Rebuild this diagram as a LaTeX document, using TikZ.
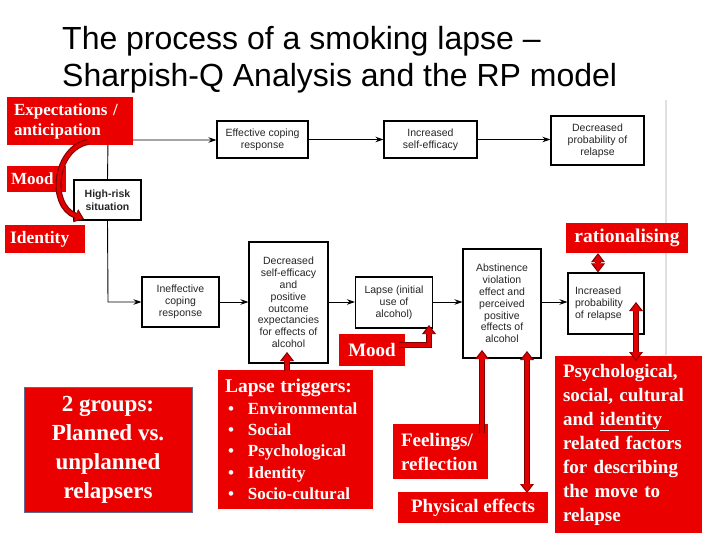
\documentclass[tikz,border=0pt]{standalone}
\usepackage{fontspec}
\setmainfont{Liberation Serif}
\newfontfamily\arialf{Liberation Sans}
\usetikzlibrary{arrows.meta}
\definecolor{boxred}{RGB}{235,0,0}
\definecolor{arrdark}{RGB}{125,0,0}
\definecolor{arrfill}{RGB}{225,0,0}
\definecolor{grpborder}{RGB}{95,105,145}
\tikzset{
  flow/.style={draw=black, line width=1.1pt, fill=white, inner sep=0pt, align=center,
    font=\arialf\fontsize{10.5}{11.8}\selectfont, text=black!85},
  rbox/.style={fill=boxred, inner sep=0pt, text=white},
  conn/.style={line width=0.9pt, -{Stealth[length=8pt,width=5.5pt]}},
  blk/.style={draw=arrdark, line width=6pt, line join=miter,
    -{Triangle[width=14pt,length=9pt,line width=0pt]},
    postaction={draw=arrfill, line width=3.8pt, shorten >=1.5pt,
      -{Triangle[width=10.4pt,length=7.4pt,line width=0pt]}}},
  blkboth/.style={draw=arrdark, line width=6pt, line join=miter,
    {Triangle[width=14pt,length=9pt,line width=0pt]}-{Triangle[width=14pt,length=9pt,line width=0pt]},
    postaction={draw=arrfill, line width=3.8pt, shorten >=1.5pt, shorten <=1.5pt,
      {Triangle[width=10.4pt,length=7.4pt,line width=0pt]}-{Triangle[width=10.4pt,length=7.4pt,line width=0pt]}}},
}
\begin{document}
\begin{tikzpicture}[x=1pt,y=-1pt]
\useasboundingbox (0,0) rectangle (720,540);
\fill[white] (0,0) rectangle (720,540);

% faint slide divider
\draw[black!12, line width=1.5pt] (666,100) -- (666,355);

% title
\node[anchor=base west, inner sep=0pt, font=\arialf\fontsize{32}{38}\selectfont] (t1) at (62,50) {The process of a smoking lapse –};
\node[anchor=base west, inner sep=0pt, font=\arialf\fontsize{32}{38}\selectfont] (t2) at (62,87) {Sharpish-Q Analysis and the RP model};

% flow boxes
\node[flow, minimum width=91pt, minimum height=37pt] (eff) at (262.5,139.5) {Effective coping\\response};
\node[flow, minimum width=93pt, minimum height=37pt] (inc) at (430.5,139.5) {Increased\\self-efficacy};
\node[flow, minimum width=93pt, minimum height=49pt] (dec) at (597.5,140.5) {Decreased\\probability of\\relapse};
\node[flow, minimum width=67pt, minimum height=40pt, font=\arialf\bfseries\fontsize{10.5}{12.5}\selectfont] (hrs) at (107.5,200) {High-risk\\situation};
\node[flow, minimum width=77pt, minimum height=50pt] (inef) at (180.5,302) {Ineffective\\coping\\response};
\node[flow, minimum width=79pt, minimum height=121pt] (dse) at (288.5,302.5) {Decreased\\self-efficacy\\and\\positive\\outcome\\expectancies\\for effects of\\alcohol};
\node[flow, minimum width=77pt, minimum height=51pt] (lapse) at (394,302.5) {Lapse (initial\\use of\\alcohol)};
\node[flow, minimum width=78pt, minimum height=109pt] (abst) at (502,303.5) {Abstinence\\violation\\effect and\\perceived\\positive\\effects of\\alcohol};
\node[flow, minimum width=76pt, minimum height=61pt, text width=62pt, align=left] (ipr) at (606,303.5) {Increased\\probability\\of relapse};

% black connectors
\coordinate (j1) at (108,140);
\coordinate (j2) at (108,302);
\draw[conn] (hrs.north) -- (j1) -- (eff.west |- j1);
\draw[conn] (hrs.south) -- (j2) -- (inef.west |- j2);
\draw[conn] (eff.east) -- (inc.west);
\draw[conn] (inc.east) -- (dec.west |- inc.east);
\draw[conn] (inef.east) -- (dse.west |- inef.east);
\draw[conn] (dse.east |- inef.east) -- (lapse.west |- inef.east);
\draw[conn] (lapse.east |- inef.east) -- (abst.west |- inef.east);
\draw[conn] (abst.east |- inef.east) -- (ipr.west |- inef.east);

% red boxes
\node[rbox, minimum width=126pt, minimum height=48pt, text width=112pt, align=left,
  font=\bfseries\fontsize{17}{20}\selectfont] (exp) at (70,121) {Expectations /\\anticipation};
\node[rbox, minimum width=59pt, minimum height=26pt, text width=51pt, align=left,
  font=\bfseries\fontsize{17}{20}\selectfont] (mood1) at (36.5,179) {Mood};
\node[rbox, minimum width=80pt, minimum height=28pt, text width=70pt, align=left,
  font=\bfseries\fontsize{17.5}{20}\selectfont] (ident) at (45,239) {Identity};
\node[rbox, minimum width=122pt, minimum height=30pt, font=\bfseries\fontsize{19.5}{22}\selectfont] (rat) at (627,238) {rationalising};
\node[rbox, minimum width=66pt, minimum height=32pt, font=\bfseries\fontsize{19}{22}\selectfont] (mood2) at (372,350) {Mood};
\node[rbox, minimum width=155pt, minimum height=139pt, text width=141pt, align=left,
  font=\bfseries\fontsize{17}{21.3}\selectfont] (lt) at (295.5,439.5)
  {{\fontsize{19.5}{21.3}\selectfont Lapse triggers:}\\
   \hspace*{3pt}\makebox[20pt][l]{\textbullet}Environmental\\
   \hspace*{3pt}\makebox[20pt][l]{\textbullet}Social\\
   \hspace*{3pt}\makebox[20pt][l]{\textbullet}Psychological\\
   \hspace*{3pt}\makebox[20pt][l]{\textbullet}Identity\\
   \hspace*{3pt}\makebox[20pt][l]{\textbullet}Socio-cultural};
\node[rbox, draw=grpborder, line width=1pt, minimum width=168pt, minimum height=125pt, align=center,
  font=\bfseries\fontsize{23}{29}\selectfont] (grp) at (108,449.5) {2 groups:\\Planned vs.\\unplanned\\relapsers};
\node[rbox, minimum width=95pt, minimum height=55pt, text width=79pt, align=left,
  font=\bfseries\fontsize{19}{24}\selectfont] (feel) at (440.5,451.5) {Feelings/\\reflection};
\node[rbox, minimum width=150pt, minimum height=31pt, font=\bfseries\fontsize{19}{22}\selectfont] (phys) at (473,507.5) {Physical effects};
\node[rbox, minimum width=147pt, minimum height=177pt, text width=131pt, align=left,
  font=\bfseries\fontsize{19}{24}\selectfont] (psy) at (628.5,444.5)
  {Psychological,\\social, cultural\\and \underline{identity\ }\\related factors\\for describing\\the move to\\relapse};

% red block arrows
\coordinate (cA) at (88,142);
\coordinate (cB) at (84,219);
\draw[blk] (cA) .. controls (55,148) and (48,205) .. (cB);
\coordinate (ltA) at (287,371);
\coordinate (ltB) at (287,352);
\draw[blk] (ltA) -- (ltB);
\coordinate (mA) at (399,345);
\coordinate (mB) at (429,345);
\coordinate (mC) at (429,325);
\draw[blk] (mA) -- (mB) -- (mC);
\coordinate (fA) at (482,433);
\coordinate (fB) at (482,350);
\draw[blk] (fA) -- (fB);
\coordinate (pA) at (527,493);
\coordinate (pB) at (527,351);
\draw[blkboth] (pA) -- (pB);
\coordinate (sA) at (636,361);
\coordinate (sB) at (636,302);
\draw[blkboth] (sA) -- (sB);
\draw[blkboth] (rat.south -| 598,0) -- (ipr.north -| 598,0);
\end{tikzpicture}
\end{document}
